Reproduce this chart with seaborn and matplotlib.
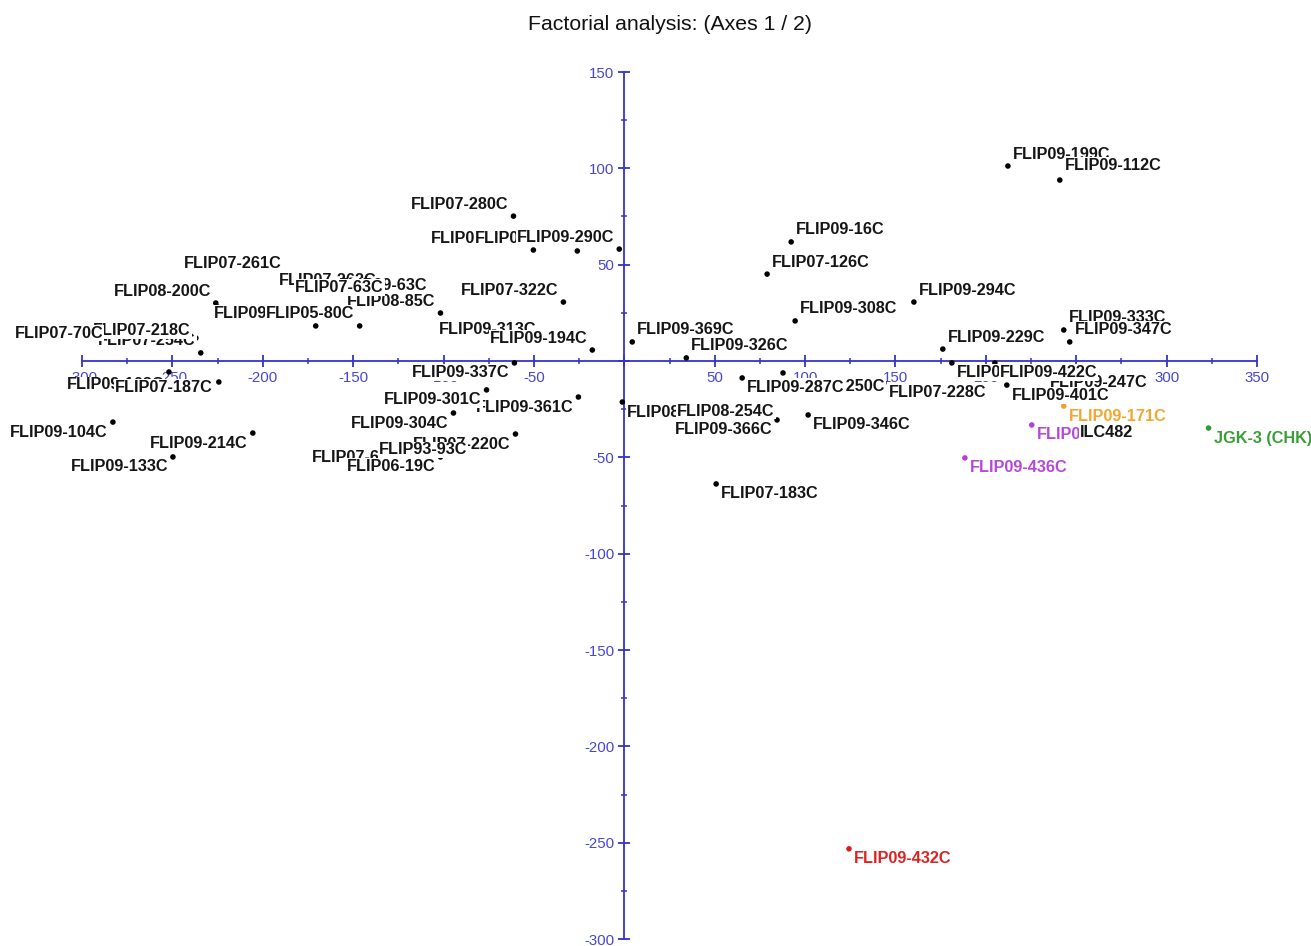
import numpy as np
import pandas as pd
import matplotlib
matplotlib.use("Agg")
import matplotlib.pyplot as plt
import seaborn as sns
from matplotlib.ticker import MultipleLocator, FuncFormatter

# ---------------- data ----------------
names = [
    "FLIP07-262C", "FLIP09-63C", "FLIP08-85C", "FLIP07-63C", "FLIP09-118C",
    "FLIP05-80C", "FLIP07-254C", "FLIP07-218C", "FLIP07-70C", "FLIP08-200C",
    "FLIP07-261C", "FLIP09-103C", "FLIP07-187C", "FLIP09-104C", "FLIP09-214C",
    "FLIP09-133C", "FLIP07-274C", "FLIP09-141C", "FLIP09-290C", "FLIP07-280C",
    "FLIP07-322C", "FLIP09-313C", "FLIP09-194C", "FLIP09-337C", "FLIP09-361C",
    "FLIP09-301C", "FLIP09-304C", "FLIP07-66C", "FLIP07-220C", "FLIP93-93C",
    "FLIP06-19C", "FLIP09-369C", "FLIP09-326C", "FLIP09-16C", "FLIP07-126C",
    "FLIP09-308C", "FLIP09-294C", "FLIP07-228C", "FLIP09-250C", "FLIP09-287C",
    "FLIP08-225C", "FLIP09-366C", "FLIP08-254C", "FLIP09-346C", "FLIP07-183C",
    "FLIP09-229C", "FLIP09-232C", "FLIP09-247C", "FLIP09-171C", "FLIP09-422C",
    "FLIP09-401C", "FLIP09-439C", "ILC482", "FLIP09-436C", "FLIP09-199C",
    "FLIP09-112C", "FLIP09-333C", "FLIP09-347C", "JGK-3 (CHK)", "FLIP09-432C",
]
axis1 = [
    -134.3, -106.0, -101.7, -130.4, -170.7,
    -146.4, -234.3, -237.0, -285.6, -226.0,
    -224.9, -251.9, -224.3, -282.9, -205.5,
    -249.7, -50.3, -26.0, -2.8, -61.3,
    -33.7, -45.9, -17.7, -60.8, -25.4,
    -76.2, -94.5, -121.0, -60.2, -84.0,
    -101.7, 4.4, 34.3, 92.3, 79.0,
    94.5, 160.2, 143.6, 87.8, 65.2,
    -1.1, 84.5, 26.5, 101.7, 50.8,
    176.2, 181.2, 232.6, 243.1, 205.0,
    211.6, 225.4, 249.2, 188.4, 212.2,
    240.9, 243.1, 246.4, 323.2, 124.3,
]
axis2 = [
    35.3, 32.7, 24.9, 31.7, 18.2,
    18.2, 4.2, 11.9, 8.3, 30.1,
    28.0, -5.7, -10.9, -31.7, -37.4,
    -49.8, 57.6, 57.1, 58.1, 75.2,
    30.6, 9.9, 5.7, -1.0, -18.7,
    -15.0, -27.0, -45.1, -37.9, -41.0,
    -49.8, 9.9, 1.6, 61.8, 45.1,
    20.8, 30.6, -11.4, -6.2, -8.8,
    -21.3, -30.6, -24.4, -28.0, -63.8,
    6.2, -1.0, -6.2, -23.4, -1.0,
    -12.5, -33.2, -31.7, -50.3, 101.2,
    93.9, 16.1, 9.9, -34.8, -253.2,
]
groups = ["FLIP"] * len(names)
groups[names.index("FLIP09-171C")] = "orange"
groups[names.index("FLIP09-439C")] = "purple"
groups[names.index("FLIP09-436C")] = "purple"
groups[names.index("JGK-3 (CHK)")] = "green"
groups[names.index("FLIP09-432C")] = "red"

title_text = "Factorial analysis: (Axes 1 / 2)"
x_limits = (-300, 350)
y_limits = (-300, 150)

# ---------------- styling / label placement ----------------
palette = {"FLIP": "#000000", "orange": "#f2a12a", "purple": "#b43fd6",
           "green": "#2f9a2f", "red": "#dd1c1c"}
text_colors = {"FLIP": "#151515", "orange": "#f4a62e", "purple": "#b548d8",
               "green": "#36a036", "red": "#dd2222"}
side_offsets = {"UR": (5, 12, "left"), "UL": (-5, 12, "right"),
                "LR": (5, -10, "left"), "LL": (-5, -10, "right"),
                "R": (5, -3, "left"), "UP": (15, 44, "center")}
UL_names = ["FLIP07-262C", "FLIP09-63C", "FLIP08-85C", "FLIP07-63C", "FLIP09-118C",
            "FLIP05-80C", "FLIP07-254C", "FLIP07-218C", "FLIP07-70C", "FLIP08-200C",
            "FLIP07-274C", "FLIP09-141C", "FLIP09-290C", "FLIP07-280C", "FLIP07-322C",
            "FLIP09-313C", "FLIP09-194C"]
LL_names = ["FLIP09-103C", "FLIP07-187C", "FLIP09-104C", "FLIP09-214C", "FLIP09-133C",
            "FLIP09-337C", "FLIP09-361C", "FLIP09-301C", "FLIP09-304C", "FLIP07-66C",
            "FLIP07-220C", "FLIP93-93C", "FLIP06-19C", "FLIP09-366C"]
UR_names = ["FLIP09-369C", "FLIP09-326C", "FLIP09-16C", "FLIP07-126C", "FLIP09-308C",
            "FLIP09-294C", "FLIP09-229C", "FLIP09-199C", "FLIP09-112C", "FLIP09-333C",
            "FLIP09-347C"]
label_side = {n: "LR" for n in names}
for n in UL_names:
    label_side[n] = "UL"
for n in LL_names:
    label_side[n] = "LL"
for n in UR_names:
    label_side[n] = "UR"
label_side["FLIP08-254C"] = "R"
label_side["FLIP07-261C"] = "UP"
offset_override = {"FLIP07-187C": (-6, -5, "right"), "FLIP09-103C": (-5, -13, "right"),
                   "FLIP07-218C": (-5, 8, "right"), "FLIP09-250C": (5, -14, "left"),
                   "FLIP09-112C": (5, 15, "left")}

axis_color = "#3434c8"
tick_label_color = "#4646d2"

sns.set_theme(style="white")
plt.rcParams["font.family"] = ["Liberation Sans", "DejaVu Sans"]

fig = plt.figure(figsize=(13.11, 9.46), dpi=100)
ax = fig.add_axes([82 / 1311, 7 / 946, 1175 / 1311, 867 / 946])

df = pd.DataFrame({"name": names, "axis1": axis1, "axis2": axis2, "group": groups})
sns.scatterplot(data=df, x="axis1", y="axis2", hue="group", palette=palette,
                s=16, linewidth=0, legend=False, ax=ax, zorder=2)

ax.set_xlim(*x_limits)
ax.set_ylim(*y_limits)
ax.set_xlabel("")
ax.set_ylabel("")
for s in ["top", "right"]:
    ax.spines[s].set_visible(False)
ax.spines["left"].set_position(("data", 0))
ax.spines["bottom"].set_position(("data", 0))
for s in ["left", "bottom"]:
    ax.spines[s].set_color(axis_color)
    ax.spines[s].set_linewidth(1.3)
    ax.spines[s].set_zorder(1.5)

fmt = FuncFormatter(lambda v, p: "" if abs(v) < 1e-9 else f"{v:g}")
for axis in (ax.xaxis, ax.yaxis):
    axis.set_major_locator(MultipleLocator(50))
    axis.set_minor_locator(MultipleLocator(25))
    axis.set_major_formatter(fmt)
ax.tick_params(which="both", bottom=True, left=True, top=False, right=False)
ax.tick_params(which="major", direction="inout", length=9, width=1.3,
               color=axis_color, labelcolor=tick_label_color, labelsize=10.8)
ax.tick_params(which="minor", direction="inout", length=5, width=1.1, color=axis_color)
ax.tick_params(axis="x", which="major", pad=2.5)
ax.tick_params(axis="y", which="major", pad=2.7)
ax.xaxis.set_zorder(1.5)
ax.yaxis.set_zorder(1.5)
ax.grid(False)

for i, row in df.iterrows():
    if row["name"] in offset_override:
        dx, dy, ha = offset_override[row["name"]]
    else:
        dx, dy, ha = side_offsets[label_side[row["name"]]]
    ax.annotate(row["name"], (row["axis1"], row["axis2"]), xytext=(dx, dy),
                textcoords="offset pixels", ha=ha, va="center",
                fontsize=11.7, fontweight="bold", color=text_colors[row["group"]],
                bbox=dict(boxstyle="square,pad=0.06", fc="white", ec="none"),
                annotation_clip=False, zorder=3 + i * 0.001)

fig.text((82 + 1175 / 2) / 1311, 1 - 25 / 946, title_text, ha="center", va="center",
         fontsize=15.3, color="#111111")

fig.savefig("out.png", dpi=100, facecolor="white")
